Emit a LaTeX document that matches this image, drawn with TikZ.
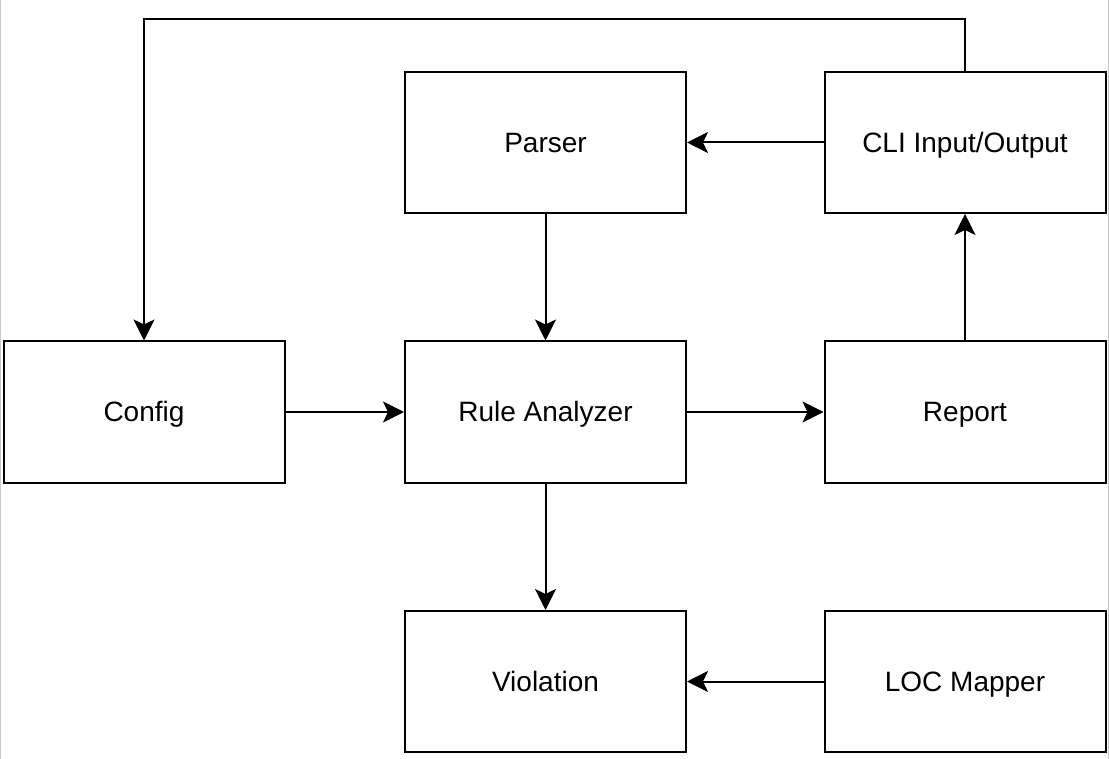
\documentclass[tikz,border=0pt]{standalone}
\usepackage{fontspec}
\setmainfont{Liberation Sans}
\usetikzlibrary{arrows.meta}
\begin{document}
\begin{tikzpicture}[x=0.5pt,y=-0.5pt,
    block/.style={draw,line width=1pt,minimum width=140.5pt,minimum height=70.5pt,inner sep=0pt,text height=10pt,text depth=0pt,font=\fontsize{14}{17}\selectfont},
    flow/.style={line width=1pt,-{Stealth[length=10.5pt,width=10.5pt,inset=2.5pt]}}]
                \useasboundingbox (0,0) rectangle (1109,759);
                \draw[white!78!black,line width=0.5pt] (0.5,0) -- (0.5,759);
                \draw[white!78!black,line width=0.5pt] (1108.5,0) -- (1108.5,759);
                \node[block] (parser) at (545.5,142.5) {Parser};
                \node[block] (cli) at (965,142.5) {CLI Input/Output};
                \node[block] (config) at (144,412) {Config};
                \node[block] (rule) at (545.5,412) {Rule Analyzer};
                \node[block] (report) at (965,412) {Report};
                \node[block] (violation) at (545.5,681.5) {Violation};
                \node[block] (loc) at (965,681.5) {LOC Mapper};
                \coordinate (topright) at (965,19);
                \coordinate (topleft) at (144,19);
                \draw[flow] (cli) -- (parser);
                \draw[flow] (parser) -- (rule);
                \draw[flow] (config) -- (rule);
                \draw[flow] (rule) -- (report);
                \draw[flow] (report) -- (cli);
                \draw[flow] (rule) -- (violation);
                \draw[flow] (loc) -- (violation);
                \draw[flow] (cli.north) -- (topright) -- (topleft) -- (config.north);
            \end{tikzpicture}
\end{document}
